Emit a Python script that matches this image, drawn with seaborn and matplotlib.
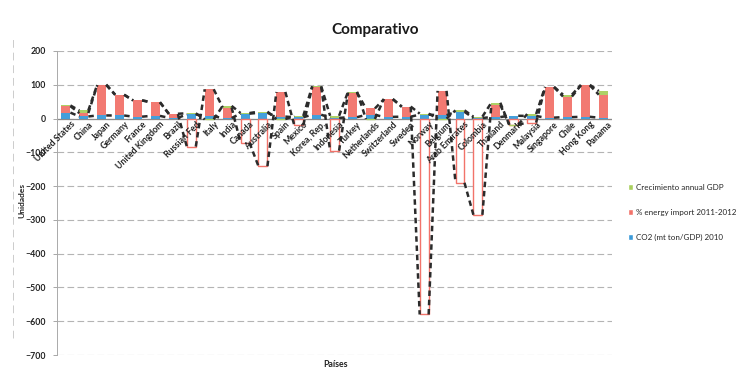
import numpy as np
import matplotlib
matplotlib.use("Agg")
import matplotlib.pyplot as plt
from matplotlib.patches import Patch
import seaborn as sns

countries = ["United States", "China", "Japan", "Germany", "France", "United Kingdom",
             "Brazil", "Russian Fed", "Italy", "India", "Canada", "Australia", "Spain",
             "Mexico", "Korea, Rep.", "Indonesia", "Turkey", "Netherlands", "Switzerland",
             "Sweden", "Norway", "Belgium", "Arab Emirates", "Colombia", "Thailand",
             "Denmark", "Malaysia", "Singapore", "Chile", "Hong Kong", "Panama"]

co2_2010 = [17.6, 6.2, 9.2, 9.1, 5.6, 7.9, 2.2, 12.2, 6.7, 1.7, 14.6, 16.9, 5.8,
            3.8, 11.5, 1.8, 4.1, 10.9, 5.0, 5.6, 11.7, 10.0, 19.9, 1.6, 4.4,
            8.3, 7.7, 2.7, 4.2, 5.2, 2.6]
energy_import = [19, 10, 90, 61, 48, 40, 11, -83, 80, 31, -72, -141, 73,
                 -20, 82, -95, 73, 19, 52, 29, -580, 72, -190, -285, 36,
                 -18, -12, 90, 61, 93, 68]
gdp_growth = [2.2, 7.7, 1.5, 0.7, 0.3, 0.7, 1.0, 3.4, -2.4, 4.7, 1.7, 3.6, -1.6,
              3.9, 2.3, 6.3, 2.2, -1.2, 1.0, 0.9, 2.9, -0.1, 4.4, 4.0, 6.5,
              -0.4, 5.6, 1.3, 5.6, 1.5, 10.8]

series_names = ["CO2 (mt ton/GDP) 2010", "% energy import 2011-2012", "Crecimiento annual GDP"]
series_values = [co2_2010, energy_import, gdp_growth]
colors = ["#3A9AD9", "#F2736A", "#A9CF5E"]

sns.set_theme(style="white")
plt.rcParams["font.family"] = ["Lato", "DejaVu Sans"]

fig = plt.figure(figsize=(7.38, 3.75), dpi=100)
ax = fig.add_axes([0.0772, 0.0533, 0.8296 - 0.0772, 0.864 - 0.0533])

n = len(countries)
x = np.arange(n)
width = 0.5

# Excel-style stacking: positives stack upward, negatives stack downward
pos_base = np.zeros(n)
neg_base = np.zeros(n)
ends = []
for vals, col in zip(series_values, colors):
    v = np.array(vals, dtype=float)
    bottom = np.where(v >= 0, pos_base, neg_base)
    top = bottom + v
    for i in range(n):
        if v[i] >= 0:
            ax.bar(x[i], v[i], width, bottom=bottom[i], color=col, edgecolor="none",
                   alpha=0.95, zorder=3)
        else:
            # inverted fill for negative values: white box with coloured outline
            ax.bar(x[i], v[i], width, bottom=bottom[i], facecolor="white",
                   edgecolor=col, linewidth=1.0, zorder=3)
    pos_base = np.where(v >= 0, top, pos_base)
    neg_base = np.where(v < 0, top, neg_base)
    ends.append(top)

# series lines joining the end of each segment between neighbouring columns
for e in ends:
    xs, ys = [], []
    for i in range(n - 1):
        xs += [x[i] + width / 2, x[i + 1] - width / 2, np.nan]
        ys += [e[i], e[i + 1], np.nan]
    ax.plot(xs, ys, color="#2b2b2b", lw=1.8, ls=(0, (2.2, 1.5)), zorder=4)

ax.set_xlim(-0.5, n - 0.5)
ax.set_ylim(-700, 200)
ax.set_yticks(np.arange(-700, 201, 100))
ax.tick_params(axis="y", labelsize=6.3, length=3, width=0.6, color="#999999",
               direction="out", pad=5, labelcolor="#222222", left=True)
for lab in ax.get_yticklabels():
    lab.set_fontweight("bold")
ax.set_xticks([])

ax.set_axisbelow(True)
ax.yaxis.grid(True, color="#b4b4b4", linewidth=0.8, linestyle=(0, (6, 3)))
ax.axhline(0, color="#8a8a8a", lw=0.9, zorder=2)

for s in ["top", "right", "bottom"]:
    ax.spines[s].set_visible(False)
ax.spines["left"].set_color("#aaaaaa")
ax.spines["left"].set_linewidth(0.7)

# category labels sit along the zero axis
for i, name in enumerate(countries):
    ax.text(x[i] + 0.25, -4, name, rotation=45, ha="right", va="top",
            rotation_mode="anchor", fontsize=6.3, fontweight="bold",
            color="#222222", zorder=5)

fig.text(0.508, 0.92, "Comparativo", ha="center", va="center", fontsize=11,
         fontweight="bold", color="#1a1a1a")
fig.text(0.029, 0.465, "Unidades", rotation=90, ha="center", va="center",
         fontsize=6.0, fontweight="bold", color="#222222")
fig.text(0.455, 0.027, "Países", ha="center", va="center", fontsize=6.3,
         fontweight="bold", color="#222222")

# legend
handles = [Patch(facecolor=colors[2]), Patch(facecolor=colors[1]), Patch(facecolor=colors[0])]
labels = [series_names[2], series_names[1], series_names[0]]
fig.legend(handles, labels, loc="upper left", bbox_to_anchor=(0.845, 0.52),
           frameon=False, fontsize=5.8, handlelength=0.7, handleheight=0.7,
           handletextpad=0.3, labelspacing=2.2, borderpad=0)

# chart border
fig.add_artist(plt.Line2D([0.017, 0.017], [0.1, 0.9], color="#cccccc", lw=0.7,
                          ls=(0, (8, 5)), transform=fig.transFigure))

fig.savefig("out.png", dpi=100)
